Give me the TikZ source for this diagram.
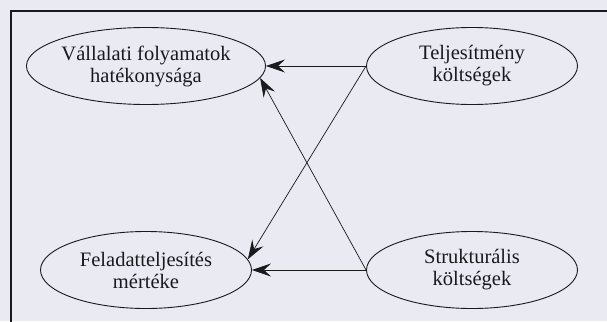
\documentclass[tikz,border=0pt]{standalone}
\usepackage{fontspec}
\setmainfont{Liberation Serif}
\usetikzlibrary{shapes.geometric,arrows.meta}
\definecolor{paper}{RGB}{233,234,242}
\definecolor{ink}{RGB}{25,25,30}
\tikzset{
  bubble/.style={ellipse, draw=ink, line width=0.9pt, minimum width=211pt, minimum height=77pt, inner sep=0pt, align=center, font=\fontsize{20.5}{22}\selectfont, text=ink},
  link/.style={draw=ink, line width=0.7pt, -{Stealth[length=19pt,width=13pt,inset=7pt]}},
  frame/.style={draw=ink, line width=1.3pt}
}
\begin{document}
\begin{tikzpicture}[x=1pt,y=-1pt]
\fill[paper] (0,0) rectangle (607,321);
\useasboundingbox (0,0) rectangle (607,321);
\clip (0,0) rectangle (607,321);
\draw[frame] (11,11) rectangle (640,360);
\node[bubble] (tl) at (146,66) {Vállalati folyamatok\\hatékonysága};
\node[bubble] (tr) at (472,66) {Teljesítmény\\költségek};
\node[bubble] (bl) at (146,270) {Feladatteljesítés\\mértéke};
\node[bubble] (br) at (472,270) {Strukturális\\költségek};
\draw[link] (tr.west) -- (tl.east);
\draw[link] (tr.west) -- (bl.6);
\draw[link] (br.west) -- (tl.-6);
\draw[link] (br.west) -- (bl.east);
\end{tikzpicture}
\end{document}
